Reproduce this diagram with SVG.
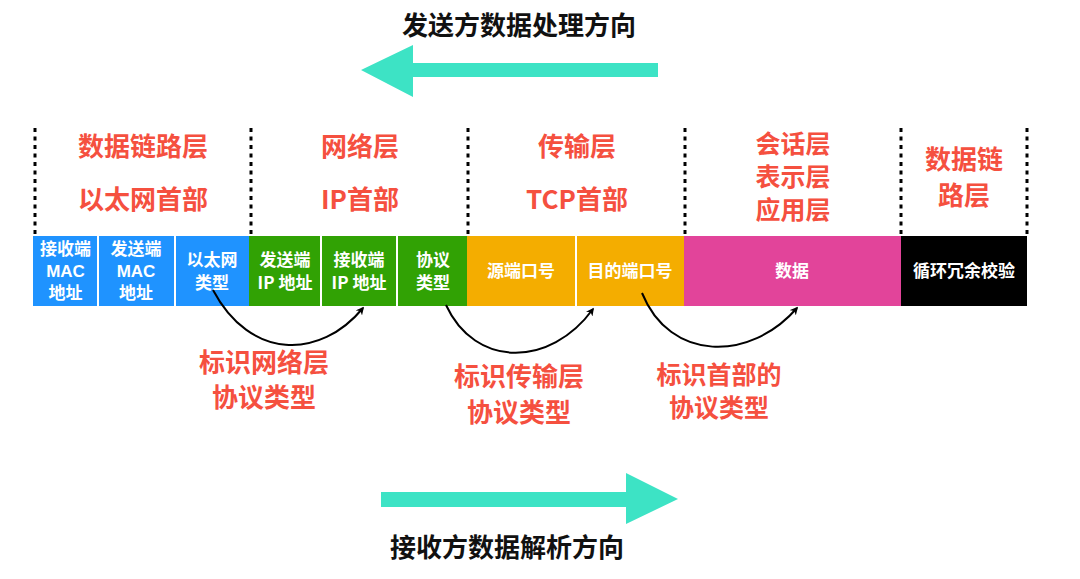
<svg xmlns="http://www.w3.org/2000/svg" width="1080" height="579" viewBox="0 0 1080 579">
<defs>
<style>
.t{font-family:"Noto Sans CJK SC","Liberation Sans",sans-serif;font-weight:bold;text-anchor:middle}
.red{fill:#F5503F;font-size:26px}
.tight{font-size:25px}
.blk{fill:#111;font-size:26px}
.cell{fill:#fff;font-size:17px}
.lat{font-family:"Liberation Sans","Noto Sans CJK SC",sans-serif}
.dash{stroke:#000;stroke-width:3;stroke-dasharray:4 4.5}
.sep{stroke:#fff;stroke-width:2}
.cur{fill:none;stroke:#000;stroke-width:2}
</style>
<marker id="ah" viewBox="0 0 10 10" refX="8" refY="5" markerWidth="8" markerHeight="8" markerUnits="userSpaceOnUse" orient="auto">
<path d="M0,0 L10,5 L0,10 L3,5 Z" fill="#000"/>
</marker>
</defs>
<rect width="1080" height="579" fill="#fff"/>

<g id="dividers">
<line class="dash" x1="35" y1="128" x2="35" y2="236"/>
<line class="dash" x1="251" y1="128" x2="251" y2="236"/>
<line class="dash" x1="468" y1="128" x2="468" y2="236"/>
<line class="dash" x1="685" y1="128" x2="685" y2="236"/>
<line class="dash" x1="901" y1="128" x2="901" y2="236"/>
<line class="dash" x1="1027" y1="128" x2="1027" y2="236"/>
</g>

<g id="top-direction">
<text class="t blk" x="519" y="35">发送方数据处理方向</text>
<polygon points="658,63 413,63 413,45 361,70 413,97 413,77 658,77" fill="#3DE3C5"/>
</g>

<g id="bottom-direction">
<polygon points="381,492 626,492 626,473 678,499 626,524 626,507 381,507" fill="#3DE3C5"/>
<text class="t blk" x="507" y="557">接收方数据解析方向</text>
</g>

<g id="layer-datalink">
<text class="t red" x="143" y="156">数据链路层</text>
<text class="t red" x="143" y="209">以太网首部</text>
</g>
<g id="layer-network">
<text class="t red" x="360" y="156">网络层</text>
<text class="t red" x="360" y="209">IP首部</text>
</g>
<g id="layer-transport">
<text class="t red" x="577" y="156">传输层</text>
<text class="t red" x="577" y="209">TCP首部</text>
</g>
<g id="layer-app">
<text class="t red tight" x="793" y="153">会话层</text>
<text class="t red tight" x="793" y="186">表示层</text>
<text class="t red tight" x="793" y="219">应用层</text>
</g>
<g id="layer-datalink-tail">
<text class="t red" x="964" y="169">数据链</text>
<text class="t red" x="964" y="205">路层</text>
</g>

<g id="cell-dst-mac">
<rect x="33" y="236" width="65" height="70" fill="#1F93FF"/>
<text class="t cell" x="65.5" y="255">接收端</text>
<text class="t cell lat" x="65.5" y="277">MAC</text>
<text class="t cell" x="65.5" y="299">地址</text>
</g>
<g id="cell-src-mac">
<rect x="98" y="236" width="77" height="70" fill="#1F93FF"/>
<text class="t cell" x="136" y="255">发送端</text>
<text class="t cell lat" x="136" y="277">MAC</text>
<text class="t cell" x="136" y="299">地址</text>
</g>
<g id="cell-eth-type">
<rect x="175" y="236" width="74" height="70" fill="#1F93FF"/>
<text class="t cell" x="212" y="266">以太网</text>
<text class="t cell" x="212" y="289">类型</text>
</g>
<g id="cell-src-ip">
<rect x="249" y="236" width="72" height="70" fill="#31A204"/>
<text class="t cell" x="285" y="266">发送端</text>
<text class="t cell" x="285" y="289">IP 地址</text>
</g>
<g id="cell-dst-ip">
<rect x="321" y="236" width="76" height="70" fill="#31A204"/>
<text class="t cell" x="359" y="266">接收端</text>
<text class="t cell" x="359" y="289">IP 地址</text>
</g>
<g id="cell-proto">
<rect x="397" y="236" width="70" height="70" fill="#31A204"/>
<text class="t cell" x="433" y="266">协议</text>
<text class="t cell" x="433" y="289">类型</text>
</g>
<g id="cell-src-port">
<rect x="467" y="236" width="109" height="70" fill="#F4AD00"/>
<text class="t cell" x="521" y="277">源端口号</text>
</g>
<g id="cell-dst-port">
<rect x="576" y="236" width="108" height="70" fill="#F4AD00"/>
<text class="t cell" x="630" y="277">目的端口号</text>
</g>
<g id="cell-data">
<rect x="684" y="236" width="217" height="70" fill="#E2449A"/>
<text class="t cell" x="792" y="277">数据</text>
</g>
<g id="cell-crc">
<rect x="901" y="236" width="126" height="70" fill="#000"/>
<text class="t cell" x="964" y="277">循环冗余校验</text>
</g>
<g id="cell-separators">
<line class="sep" x1="98" y1="236" x2="98" y2="306"/>
<line class="sep" x1="175" y1="236" x2="175" y2="306"/>
<line class="sep" x1="321" y1="236" x2="321" y2="306"/>
<line class="sep" x1="397" y1="236" x2="397" y2="306"/>
<line class="sep" x1="576" y1="236" x2="576" y2="306"/>
</g>

<g id="connectors">
<path class="cur" d="M213,290 C250,360 320,360 363,308" marker-end="url(#ah)"/>
<path class="cur" d="M446,305 C475,368 550,368 593,309" marker-end="url(#ah)"/>
<path class="cur" d="M642,293 C670,362 750,362 797,308" marker-end="url(#ah)"/>
</g>

<g id="label-network-proto">
<text class="t red" x="264" y="372">标识网络层</text>
<text class="t red" x="264" y="407">协议类型</text>
</g>
<g id="label-transport-proto">
<text class="t red" x="519" y="386">标识传输层</text>
<text class="t red" x="519" y="422">协议类型</text>
</g>
<g id="label-header-proto">
<text class="t red tight" x="719" y="384">标识首部的</text>
<text class="t red tight" x="719" y="417">协议类型</text>
</g>
</svg>
